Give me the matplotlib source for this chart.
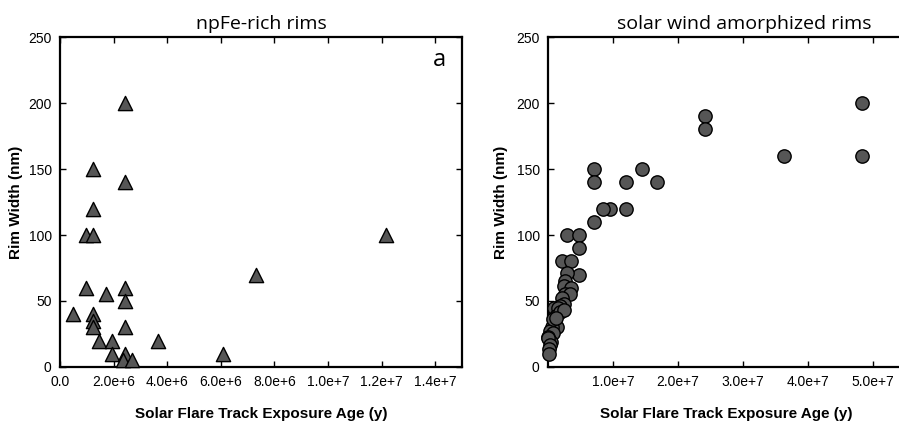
import numpy as np
import matplotlib
matplotlib.use("Agg")
import matplotlib.pyplot as plt

# npFe-rich rims (left, triangles)
npfe_age = [0.5e6, 0.97e6, 1.24e6, 1.24e6, 1.24e6, 0.97e6, 1.24e6, 1.24e6, 1.24e6,
            1.45e6, 1.95e6, 1.93e6, 1.7e6,
            2.44e6, 2.44e6, 2.44e6, 2.44e6, 2.44e6, 2.43e6, 2.35e6, 2.67e6,
            3.66e6, 6.08e6, 7.3e6, 1.218e7]
npfe_width = [40, 100, 100, 150, 120, 60, 40, 35, 30,
              20, 20, 10, 55,
              200, 140, 60, 50, 30, 10, 5, 5,
              20, 10, 70, 100]

# solar wind amorphized rims (right, circles)
sw_age = [48.4e6, 48.4e6, 36.3e6, 24.2e6, 24.2e6, 16.8e6, 14.4e6, 12.0e6, 12.0e6,
          9.6e6, 8.4e6, 7.1e6, 7.1e6, 7.1e6,
          3.0e6, 4.8e6, 4.8e6, 2.1e6, 3.5e6, 4.8e6, 3.0e6, 2.6e6, 2.4e6, 3.5e6,
          2.6e6, 3.4e6, 2.1e6, 2.4e6, 1.85e6, 0.92e6, 1.6e6, 1.2e6, 1.85e6, 2.4e6,
          1.4e6, 0.6e6, 0.3e6, 0.7e6, 0.05e6, 0.5e6, 0.0e6, 0.3e6, 0.1e6, 0.2e6,
          0.8e6, 1.2e6]
sw_width = [200, 160, 160, 190, 180, 140, 150, 140, 120,
            120, 120, 150, 140, 110,
            100, 100, 90, 80, 80, 70, 71, 65, 61, 60,
            55, 55, 52, 48, 46, 45, 45, 39, 42, 43,
            30, 30, 27, 26, 23, 19, 22, 17, 14, 10,
            36, 37]

left_xticks = [0, 2e6, 4e6, 6e6, 8e6, 1e7, 1.2e7, 1.4e7]
left_xlabels = ["0.0", "2.0e+6", "4.0e+6", "6.0e+6", "8.0e+6", "1.0e+7", "1.2e+7", "1.4e+7"]
right_xticks = [1e7, 2e7, 3e7, 4e7, 5e7]
right_xlabels = ["1.0e+7", "2.0e+7", "3.0e+7", "4.0e+7", "5.0e+7"]
yticks = [0, 50, 100, 150, 200, 250]

W, H = 899, 421
fig = plt.figure(figsize=(W / 100, H / 100), dpi=100)

ax1 = fig.add_axes([60 / W, 1 - 367 / H, 402 / W, 330 / H])
ax2 = fig.add_axes([548 / W, 1 - 367 / H, 356 / W, 330 / H])

tick_font = dict(family="Liberation Sans", size=10)
lab_font = dict(family="Liberation Sans", size=11, weight="bold")

ax1.scatter(npfe_age, npfe_width, marker="^", s=105, c="#565656",
            edgecolors="black", linewidths=1, zorder=3, clip_on=False)
ax2.scatter(sw_age, sw_width, marker="o", s=92, c="#565656",
            edgecolors="black", linewidths=1, zorder=3, clip_on=False)

ax1.set_xlim(0, 1.5e7)
ax2.set_xlim(0, 5.48e7)
ax1.set_xticks(left_xticks)
ax1.set_xticklabels(left_xlabels, **tick_font)
ax2.set_xticks(right_xticks)
ax2.set_xticklabels(right_xlabels, **tick_font)

for ax in (ax1, ax2):
    ax.set_ylim(0, 250)
    ax.set_yticks(yticks)
    ax.set_yticklabels([str(v) for v in yticks], **tick_font)
    ax.tick_params(direction="in", top=True, right=True, length=4, width=1, pad=6)
    for sp in ax.spines.values():
        sp.set_linewidth(1.6)
    ax.set_xlabel("Solar Flare Track Exposure Age (y)", labelpad=13, **lab_font)
    ax.set_ylabel("Rim Width (nm)", labelpad=6, **lab_font)
ax2.tick_params(right=False)
ax1.yaxis.labelpad = 4

ax1.set_title("npFe-rich rims", family="Open Sans", size=14, pad=6)
ax2.set_title("solar wind amorphized rims", family="Open Sans", size=14, pad=6, x=0.55)
ax1.text(0.96, 0.93, "a", transform=ax1.transAxes, ha="right", va="center",
         family="Open Sans", size=17)

fig.savefig("out.png", dpi=100)
